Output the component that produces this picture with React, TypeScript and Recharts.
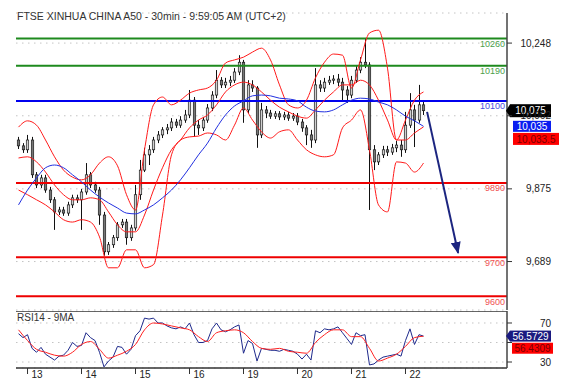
import React from "react";
import {
  ComposedChart,
  Bar,
  Line,
  XAxis,
  YAxis,
  CartesianGrid,
  ReferenceLine,
  ReferenceDot,
} from "recharts";

const FONT = "'Liberation Sans', Arial, Helvetica, sans-serif";

// 30 min bars, bar 0 = first bar on screen
const opens = [
  10000, 9985, 9975, 10000, 9911, 9885, 9903, 9872, 9847, 9816,
  9821, 9813, 9834, 9852, 9847, 9867, 9911, 9885, 9872, 9808,
  9714, 9732, 9750, 9783, 9790, 9750, 9775, 9860, 9923, 9962,
  9975, 10000, 10013, 10026, 10031, 10046, 10038, 10051, 10064, 10102,
  10038, 10031, 10051, 10082, 10115, 10153, 10141, 10148, 10153, 10174,
  10199, 10077, 10141, 10133, 10013, 10077, 10069, 10061, 10067, 10059,
  10064, 10056, 10061, 10046, 10031, 10013, 10000, 10141, 10133, 10148,
  10153, 10156, 10148, 10128, 10115, 10153, 10179, 10199, 10192, 9975,
  9944, 9962, 9975, 9969, 9980, 9987, 9975, 10038, 10077, 10051,
  10090,
];
const highs = [
  10008, 9992, 10013, 10008, 9918, 9911, 9911, 9880, 9854, 9829,
  9829, 9842, 9860, 9860, 9875, 9941, 9918, 9893, 9880, 9816,
  9739, 9757, 9790, 9798, 9798, 9783, 9885, 9949, 9980, 9987,
  10008, 10023, 10033, 10041, 10056, 10054, 10061, 10077, 10128, 10110,
  10051, 10059, 10092, 10125, 10179, 10161, 10159, 10164, 10184, 10217,
  10205, 10153, 10153, 10138, 10095, 10087, 10077, 10074, 10074, 10072,
  10072, 10069, 10069, 10054, 10038, 10026, 10184, 10153, 10159, 10164,
  10166, 10169, 10159, 10138, 10164, 10189, 10212, 10261, 10199, 9987,
  9969, 9985, 9985, 9990, 9998, 10000, 10072, 10120, 10090, 10141,
  10102,
];
const lows = [
  9977, 9967, 9967, 9903, 9877, 9877, 9865, 9839, 9770, 9808,
  9806, 9806, 9826, 9839, 9770, 9860, 9877, 9865, 9783, 9704,
  9706, 9724, 9742, 9775, 9732, 9742, 9768, 9847, 9918, 9936,
  9967, 9992, 10005, 10015, 10023, 10031, 10031, 10044, 10056, 10008,
  10013, 10023, 10044, 10074, 10107, 10133, 10133, 10138, 10146, 10166,
  10044, 10069, 10123, 9980, 10005, 10056, 10054, 10054, 10051, 10051,
  10049, 10049, 10038, 10021, 9987, 9980, 9992, 10123, 10123, 10141,
  10143, 10138, 10102, 10095, 10107, 10146, 10171, 10184, 9821, 9923,
  9936, 9954, 9959, 9962, 9969, 9957, 9967, 10031, 9982, 10044,
  10064,
];
const closes = [
  9985, 9975, 10000, 9911, 9885, 9903, 9872, 9847, 9816, 9821,
  9813, 9834, 9852, 9847, 9867, 9911, 9885, 9872, 9808, 9714,
  9732, 9750, 9783, 9790, 9750, 9775, 9860, 9923, 9962, 9975,
  10000, 10013, 10026, 10031, 10046, 10038, 10051, 10064, 10102, 10038,
  10031, 10051, 10082, 10115, 10153, 10141, 10148, 10153, 10174, 10199,
  10077, 10141, 10133, 10013, 10077, 10069, 10061, 10067, 10059, 10064,
  10056, 10061, 10046, 10031, 10013, 10000, 10141, 10133, 10148, 10153,
  10156, 10148, 10128, 10115, 10153, 10179, 10199, 10192, 9975, 9944,
  9962, 9975, 9969, 9980, 9987, 9975, 10038, 10077, 10051, 10090,
  10075,
];

// indicators, one value every second bar
const bbUpper = [
  10033, 10049, 10038, 10000, 9957, 9923, 9905, 9898, 9911, 9941, 9957, 9934,
  9860, 9821, 9975, 10090, 10110, 10090, 10102, 10120, 10128, 10133, 10153,
  10197, 10205, 10212, 10225, 10235, 10205, 10141, 10090, 10082, 10102, 10159,
  10199, 10220, 10217, 10133, 10205, 10274, 10281, 10184, 10000, 10051, 10102,
  10123,
];
const bbMiddle = [
  9954, 9957, 9944, 9918, 9885, 9860, 9847, 9847, 9852, 9847, 9816, 9783,
  9765, 9765, 9808, 9872, 9929, 9975, 10000, 10031, 10051, 10064, 10090, 10123,
  10141, 10148, 10141, 10123, 10102, 10084, 10072, 10061, 10056, 10077, 10102,
  10123, 10141, 10141, 10153, 10141, 10102, 10051, 10000, 10000, 10018,
  10033.5,
];
const bbLower = [
  9872, 9860, 9847, 9834, 9816, 9796, 9790, 9796, 9790, 9752, 9673, 9673,
  9719, 9719, 9673, 9681, 9808, 9962, 10000, 10008, 10010, 10018, 10013, 10000,
  10038, 10082, 10051, 10021, 10005, 10021, 10026, 10000, 9975, 9962, 9957,
  9962, 10031, 10051, 10077, 9975, 9834, 9816, 9944, 9941, 9918, 9941,
];
const ma50 = [
  9834, 9872, 9903, 9929, 9936, 9929, 9911, 9893, 9872, 9854, 9839, 9826,
  9813, 9811, 9821, 9834, 9852, 9872, 9898, 9929, 9962, 9992, 10031, 10064,
  10087, 10100, 10113, 10115, 10113, 10107, 10105, 10100, 10084, 10074, 10072,
  10077, 10090, 10102, 10107, 10105, 10097, 10090, 10077, 10061, 10049, 10035,
];

// RSI14 every bar, its 9MA every second bar
const rsi14 = [
  59, 55, 58, 44, 40, 45, 38, 35, 32, 36,
  37, 42, 50, 46, 47, 60, 55, 52, 40, 25,
  31, 35, 46, 45, 38, 43, 57, 62, 75, 74,
  75, 70, 70, 67, 65, 64, 66, 64, 70, 58,
  50, 50, 52, 64, 70, 63, 61, 63, 66, 68,
  39, 52, 49, 31, 44, 43, 42, 42, 41, 43,
  42, 41, 38, 33, 38, 32, 62, 60, 64, 63,
  64, 66, 60, 54, 48, 60, 57, 58, 27, 28,
  32, 35, 36, 37, 38, 36, 52, 64, 48, 58,
  56.5729,
];
const rsiMa9 = [
  63, 52, 43, 40, 37, 36, 40, 48, 51, 43, 34, 37, 41, 48, 63, 70, 69, 67, 65,
  63, 56, 51, 60, 62, 63, 60, 51, 44, 43, 44, 41, 40, 39, 50, 58, 63, 63, 56,
  56, 44, 31, 34, 38, 46, 55, 56.4309,
];

const dayLabels = ["13", "14", "15", "16", "19", "20", "21", "22"];
const dayStartBar = [2, 14, 26, 38, 50, 62, 74, 86];

const priceTicks = [9689, 9875, 10062, 10248];
const rsiTicks = [30, 50, 70];
const rsiLabelled = [30, 70]; // 50 sits behind the value tags

const levels = [10260, 10190, 10100, 9890, 9700, 9600];
const levelKinds = ["res", "res", "pivot", "sup", "sup", "sup"];

// forecast arrow: from last bar down to the 9700 area
const arrowBars = [90.8, 97.7];
const arrowPrices = [10072, 9711];

const levelStyle: Record<string, { line: string; text: string }> = {
  res: { line: "#1e8a1e", text: "#4a9e4a" },
  pivot: { line: "#0000ee", text: "#4a4ae0" },
  sup: { line: "#ee0000", text: "#f05050" },
};

const X_DOMAIN: [number, number] = [-0.56, 108.56];
const PRICE_DOMAIN: [number, number] = [9565, 10325];
const RSI_DOMAIN: [number, number] = [23.85, 82.3];

const candleData = closes.map((c, i) => ({
  bar: i,
  open: opens[i],
  high: highs[i],
  low: lows[i],
  close: c,
  range: [lows[i], highs[i]],
}));
const every2 = (arr: number[]) => arr.map((v, k) => ({ bar: k * 2, v }));
const rsiData = rsi14.map((v, i) => ({ bar: i, v }));
const arrowData = arrowBars.map((b, k) => ({ bar: b, v: arrowPrices[k] }));

const fmtPrice = (v: number) => v.toLocaleString("en-US");

const Candle = (props: any) => {
  const { x, y, width, height, payload } = props;
  const { open, close, high, low } = payload;
  const cx = Math.round(x + width / 2) + 0.5;
  const span = high - low || 1;
  const yo = y + ((high - open) / span) * height;
  const yc = y + ((high - close) / span) * height;
  const top = Math.min(yo, yc);
  const h = Math.max(Math.abs(yo - yc), 1);
  return (
    <g>
      <line x1={cx} x2={cx} y1={y} y2={y + height} stroke="#111" strokeWidth={1} />
      <rect
        x={cx - 1.2}
        y={top}
        width={2.4}
        height={h}
        fill={close >= open ? "#d0d0d0" : "#777"}
        stroke="#1a1a1a"
        strokeWidth={0.7}
      />
    </g>
  );
};

type TagProps = {
  cx?: number;
  cy?: number;
  text: string;
  fill: string;
  color: string;
  pointer?: boolean;
  shift?: number;
  inset?: number;
  width?: number;
  height?: number;
};

const Tag = ({
  cx = 0,
  cy = 0,
  text,
  fill,
  color,
  pointer = false,
  shift = 0,
  inset = 3,
  width = 41,
  height = 12,
}: TagProps) => {
  const y = cy + shift;
  const left = cx + inset;
  return (
    <g>
      {pointer && (
        <polygon
          points={`${cx - 1},${y} ${left},${y - height / 2} ${left},${y + height / 2}`}
          fill={fill}
        />
      )}
      <rect x={left} y={y - height / 2} width={width} height={height} fill={fill} />
      <text
        x={left + width / 2}
        y={y}
        dy={3.6}
        textAnchor="middle"
        fontSize={10}
        fill={color}
      >
        {text}
      </text>
    </g>
  );
};

const PriceTick = (props: any) => {
  const { x, y, payload } = props;
  return (
    <g>
      <line x1={x} x2={x + 5} y1={y} y2={y} stroke="#333" />
      <text x={x + 44} y={y} dy={3.6} textAnchor="end" fontSize={10} fill="#222">
        {fmtPrice(payload.value)}
      </text>
    </g>
  );
};

const RsiTick = (props: any) => {
  const { x, y, payload } = props;
  return (
    <g>
      <line x1={x} x2={x + 5} y1={y} y2={y} stroke="#333" />
      {rsiLabelled.includes(payload.value) && (
        <text x={x + 44} y={y} dy={3.6} textAnchor="end" fontSize={10} fill="#222">
          {payload.value}
        </text>
      )}
    </g>
  );
};

const DayTick = (props: any) => {
  const { x, y, payload } = props;
  const label = dayLabels[dayStartBar.indexOf(payload.value)];
  return (
    <g>
      <line x1={x} x2={x} y1={y} y2={y + 6} stroke="#333" />
      <text x={x + 4} y={y + 10} fontSize={10} fill="#222">
        {label}
      </text>
    </g>
  );
};

const MainChart = () => {
  const lastClose = closes[closes.length - 1];
  const lastMa = ma50[ma50.length - 1];
  const lastMid = bbMiddle[bbMiddle.length - 1];
  return (
    <ComposedChart
      width={561}
      height={311}
      data={candleData}
      margin={{ top: 13, right: 0, bottom: 1, left: 16 }}
    >
      <defs>
        <marker
          id="arrowHead"
          viewBox="0 0 12 10"
          refX={11}
          refY={5}
          markerWidth={6}
          markerHeight={5}
          orient="auto"
        >
          <path d="M0,0 L12,5 L0,10 z" fill="#1c2580" />
        </marker>
      </defs>
      <CartesianGrid vertical={false} stroke="#c4c4c4" strokeDasharray="1.5 4.5" />
      <XAxis dataKey="bar" type="number" domain={X_DOMAIN} allowDataOverflow hide />
      <YAxis
        orientation="right"
        type="number"
        domain={PRICE_DOMAIN}
        allowDataOverflow
        ticks={priceTicks}
        interval={0}
        width={54}
        tickSize={0}
        tickMargin={0}
        tickLine={false}
        axisLine={{ stroke: "#444", strokeWidth: 1.5 }}
        tick={<PriceTick />}
      />
      {levels.map((v, k) => (
        <ReferenceLine
          key={v}
          y={v}
          stroke={levelStyle[levelKinds[k]].line}
          strokeWidth={2}
          label={{
            value: String(v),
            position: "insideTopRight",
            offset: 2,
            fill: levelStyle[levelKinds[k]].text,
            fontSize: 9,
          }}
        />
      ))}
      <Bar dataKey="range" barSize={3} shape={<Candle />} isAnimationActive={false} />
      <Line
        data={every2(bbUpper)}
        dataKey="v"
        type="monotone"
        stroke="#ff1a1a"
        strokeWidth={1}
        dot={false}
        activeDot={false}
        isAnimationActive={false}
      />
      <Line
        data={every2(bbMiddle)}
        dataKey="v"
        type="monotone"
        stroke="#ff1a1a"
        strokeWidth={1}
        dot={false}
        activeDot={false}
        isAnimationActive={false}
      />
      <Line
        data={every2(bbLower)}
        dataKey="v"
        type="monotone"
        stroke="#ff1a1a"
        strokeWidth={1}
        dot={false}
        activeDot={false}
        isAnimationActive={false}
      />
      <Line
        data={every2(ma50)}
        dataKey="v"
        type="monotone"
        stroke="#2230e0"
        strokeWidth={1}
        dot={false}
        activeDot={false}
        isAnimationActive={false}
      />
      <Line
        data={arrowData}
        dataKey="v"
        type="linear"
        stroke="#1c2580"
        strokeWidth={2}
        dot={false}
        activeDot={false}
        markerEnd="url(#arrowHead)"
        isAnimationActive={false}
      />
      <ReferenceDot
        x={X_DOMAIN[1]}
        y={lastMid}
        ifOverflow="visible"
        shape={(p: any) => (
          <Tag cx={p.cx} cy={p.cy} text={fmtPrice(lastMid)} fill="#ff0000" color="#7a0000" inset={6} width={46} height={12} shift={12} />
        )}
      />
      <ReferenceDot
        x={X_DOMAIN[1]}
        y={lastMa}
        ifOverflow="visible"
        shape={(p: any) => (
          <Tag cx={p.cx} cy={p.cy} text={fmtPrice(lastMa)} fill="#0a1ef0" color="#ffffff" inset={6} width={38} height={11} />
        )}
      />
      <ReferenceDot
        x={X_DOMAIN[1]}
        y={lastClose}
        ifOverflow="visible"
        shape={(p: any) => (
          <Tag cx={p.cx} cy={p.cy} text={fmtPrice(lastClose)} fill="#000000" color="#ffffff" pointer inset={3} width={41} height={13} />
        )}
      />
    </ComposedChart>
  );
};

const RsiChart = () => {
  const lastRsi = rsi14[rsi14.length - 1];
  const lastRsiMa = rsiMa9[rsiMa9.length - 1];
  return (
    <ComposedChart
      width={561}
      height={81}
      data={rsiData}
      margin={{ top: 0, right: 0, bottom: 0, left: 16 }}
    >
      <CartesianGrid vertical={false} stroke="#c4c4c4" strokeDasharray="1.5 4.5" />
      <XAxis
        dataKey="bar"
        type="number"
        domain={X_DOMAIN}
        allowDataOverflow
        ticks={dayStartBar}
        interval={0}
        height={24}
        tickSize={0}
        tickMargin={0}
        tickLine={false}
        axisLine={{ stroke: "#333", strokeWidth: 1.5 }}
        tick={<DayTick />}
      />
      <YAxis
        orientation="right"
        type="number"
        domain={RSI_DOMAIN}
        allowDataOverflow
        ticks={rsiTicks}
        interval={0}
        width={54}
        tickSize={0}
        tickMargin={0}
        tickLine={false}
        axisLine={{ stroke: "#444", strokeWidth: 1.5 }}
        tick={<RsiTick />}
      />
      <ReferenceLine y={RSI_DOMAIN[1]} stroke="#333" strokeWidth={1.5} />
      <Line
        dataKey="v"
        type="linear"
        stroke="#1f2a8c"
        strokeWidth={1}
        dot={false}
        activeDot={false}
        isAnimationActive={false}
      />
      <Line
        data={every2(rsiMa9)}
        dataKey="v"
        type="monotone"
        stroke="#ff2020"
        strokeWidth={1}
        dot={false}
        activeDot={false}
        isAnimationActive={false}
      />
      <ReferenceDot
        x={X_DOMAIN[1]}
        y={lastRsiMa}
        ifOverflow="visible"
        shape={(p: any) => (
          <Tag cx={p.cx} cy={p.cy} text={lastRsiMa.toFixed(4)} fill="#ff0000" color="#7a0000" inset={5} width={41} height={11} shift={12} />
        )}
      />
      <ReferenceDot
        x={X_DOMAIN[1]}
        y={lastRsi}
        ifOverflow="visible"
        shape={(p: any) => (
          <Tag cx={p.cx} cy={p.cy} text={lastRsi.toFixed(4)} fill="#1a1a80" color="#ffffff" pointer inset={3} width={41} height={11} />
        )}
      />
    </ComposedChart>
  );
};

export default function App() {
  return (
    <div
      style={{
        position: "absolute",
        left: 0,
        top: 0,
        width: 561,
        height: 392,
        background: "#fff",
        fontFamily: FONT,
        overflow: "hidden",
      }}
    >
      <div style={{ position: "absolute", left: 0, top: 0 }}>
        <MainChart />
      </div>
      <div style={{ position: "absolute", left: 0, top: 311 }}>
        <RsiChart />
      </div>
      <div
        style={{
          position: "absolute",
          left: 17,
          top: 10,
          fontSize: 10.5,
          lineHeight: "12px",
          color: "#333",
          whiteSpace: "nowrap",
        }}
      >
        FTSE XINHUA CHINA A50 - 30min - 9:59:05 AM (UTC+2)
      </div>
      <div
        style={{
          position: "absolute",
          left: 17,
          top: 312,
          fontSize: 10,
          lineHeight: "12px",
          color: "#333",
          whiteSpace: "nowrap",
        }}
      >
        RSI14 - 9MA
      </div>
    </div>
  );
}
